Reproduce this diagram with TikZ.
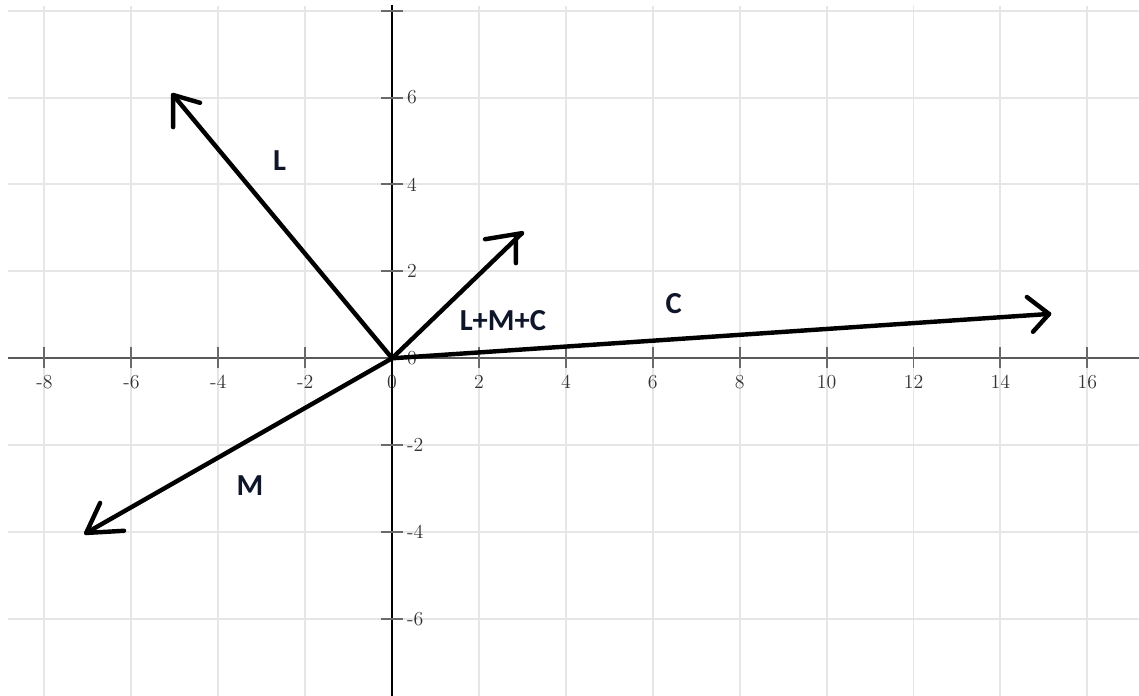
\documentclass[tikz,border=0pt]{standalone}
\usepackage{fontspec}
\newfontfamily\lblfont{Carlito}
\usetikzlibrary{calc}
\definecolor{gridc}{HTML}{E6E6E6}
\definecolor{axc}{HTML}{5A5A5A}
\definecolor{tickc}{HTML}{6A6A6A}
\definecolor{numc}{HTML}{333333}
\definecolor{lblc}{HTML}{10162A}
\tikzset{
 gridline/.style={draw=gridc, line width=1.3pt},
 axisx/.style={draw=axc, line width=1.4pt},
 axisy/.style={draw=black, line width=0.9pt},
 tickmark/.style={draw=tickc, line width=1.3pt},
 num/.style={text=numc, font=\fontsize{13}{15}\selectfont, inner sep=0pt},
 vec/.style={line width=2.9pt, line cap=round, line join=round},
 lbl/.style={font=\lblfont\bfseries\fontsize{20}{23}\selectfont, text=lblc, inner sep=0pt},
}
\begin{document}
\begin{tikzpicture}
\useasboundingbox (-9.024,-7.772) rectangle (17.19,8.246);
\fill[white] (-9.024,-7.772) rectangle (17.19,8.246);
% grid
\foreach \x in {-8,-6,...,16} \draw[gridline] (\x,8.11) -- (\x,-7.772);
\foreach \y in {-6,-4,...,8} \draw[gridline] (-8.84,\y) -- (17.19,\y);
% axes
\coordinate (O) at (0,0);
\draw[axisx] (-8.84,0) -- (17.19,0);
\draw[axisy] (0,8.14) -- (0,-7.772);
\foreach \x in {-8,-6,-4,-2,2,4,6,8,10,12,14,16} \draw[tickmark] (\x,0.26) -- (\x,-0.22);
\foreach \y in {-6,-4,-2,2,4,6,8} \draw[tickmark] (-0.25,\y) -- (0.25,\y);
\foreach \x in {-8,-6,-4,-2,0,2,4,6,8,10,12,14,16} \node[num] (xl\x) at (\x,-0.54) {\x};
\foreach \y in {-6,-4,-2,0,2,4,6} \node[num, anchor=west] (yl\y) at (0.34,\y) {\y};
% vectors
\coordinate (L) at (-5.04,6.06);
\coordinate (M) at (-7.04,-4.02);
\coordinate (C) at (15.12,1.02);
\coordinate (S) at (2.99,2.88);
\draw[vec] (O) -- (L);
\draw[vec] (O) -- (M);
\draw[vec] (O) -- (C);
\draw[vec] (O) -- (S);
\draw[vec] ($(L)+(0.62,-0.18)$) -- (L) -- ($(L)+(0,-0.74)$);
\draw[vec] ($(M)+(0.87,0.05)$) -- (M) -- ($(M)+(0.32,0.69)$);
\draw[vec] ($(C)+(-0.51,0.39)$) -- (C) -- ($(C)+(-0.37,-0.41)$);
\draw[vec] ($(S)+(-0.85,-0.14)$) -- (S) -- ($(S)+(-0.14,-0.1)$) -- ($(S)+(-0.14,-0.69)$);
% labels
\node[lbl] (tL) at (-2.59,4.54) {L};
\node[lbl] (tM) at (-3.27,-2.93) {M};
\node[lbl] (tS) at (2.55,0.86) {L+M+C};
\node[lbl] (tC) at (6.48,1.27) {C};
\end{tikzpicture}
\end{document}
